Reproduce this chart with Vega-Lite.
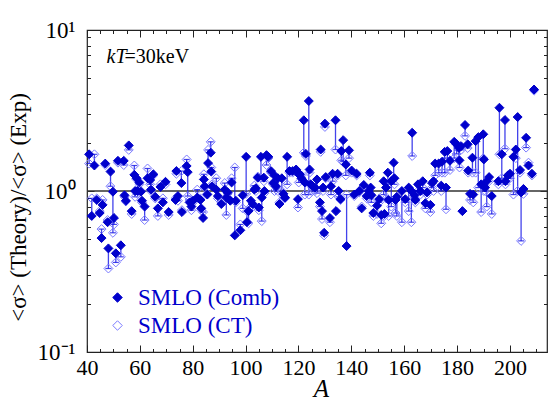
{
"$schema": "https://vega.github.io/schema/vega-lite/v6.json",
"width": 460, "height": 322,
"autosize": {"type": "none"},
"padding": {"left": 87, "top": 30, "right": 2, "bottom": 48},
"background": "white",
"config": {
  "font": "Liberation Serif, serif",
  "view": {"stroke": "#222", "strokeWidth": 1.2},
  "style": {"guide-label": {"font": "Liberation Serif, serif"}, "guide-title": {"font": "Liberation Serif, serif"}},
  "legend": {"labelFont": "Liberation Serif, serif"},
  "axis": {"domain": false, "grid": false, "tickColor": "#222", "tickWidth": 1, "labelFont": "Liberation Serif, serif", "titleFont": "Liberation Serif, serif", "labelColor": "#000", "titleColor": "#000", "labelFontSize": 23, "titleFontWeight": "normal"}
},
"datasets": {"pts": [
{"A":40.8,"comb":1.69,"ct":1.48},{"A":41.8,"comb":0.70,"ct":0.90},{"A":42.8,"comb":1.44,"ct":1.69},{"A":43.7,"comb":0.88,"ct":0.90},
{"A":44.8,"comb":0.73,"ct":0.75},{"A":45.5,"comb":0.51,"ct":0.58},{"A":45.9,"comb":0.82,"ct":0.88},{"A":46.9,"comb":1.48,"ct":1.45},
{"A":47.8,"comb":0.64,"ct":0.66},{"A":48.1,"comb":0.44,"ct":0.33},{"A":48.9,"comb":1.32,"ct":1.07},{"A":49.8,"comb":0.99,"ct":0.55},
{"A":50.2,"comb":0.68,"ct":0.62},{"A":50.9,"comb":0.41,"ct":0.36},{"A":51.7,"comb":1.54,"ct":1.50},{"A":52.8,"comb":0.46,"ct":0.39},
{"A":53.9,"comb":1.54,"ct":1.45},{"A":54.2,"comb":0.94,"ct":0.92},{"A":54.7,"comb":0.87,"ct":0.86},{"A":55.8,"comb":1.92,"ct":1.80},
{"A":56.9,"comb":0.75,"ct":0.72},{"A":57.9,"comb":1.26,"ct":1.44},{"A":58.2,"comb":1.00,"ct":0.92},{"A":58.75,"comb":1.20,"ct":1.18},
{"A":59.1,"comb":1.00,"ct":0.96},{"A":59.8,"comb":1.13,"ct":1.10},{"A":60.4,"comb":0.99,"ct":1.00},{"A":60.8,"comb":0.87,"ct":0.85},
{"A":61.8,"comb":0.80,"ct":0.66},{"A":62.9,"comb":1.20,"ct":1.38},{"A":63.9,"comb":1.17,"ct":1.10},{"A":64.2,"comb":1.02,"ct":1.00},
{"A":65.1,"comb":1.27,"ct":1.25},{"A":65.8,"comb":0.92,"ct":0.90},{"A":66.8,"comb":0.78,"ct":0.70},{"A":67.8,"comb":1.06,"ct":1.10},
{"A":68.7,"comb":0.85,"ct":0.90},{"A":69.7,"comb":1.14,"ct":1.10},{"A":70.9,"comb":0.74,"ct":0.71},{"A":73.5,"comb":0.88,"ct":0.90},
{"A":73.8,"comb":1.33,"ct":1.28},{"A":74.4,"comb":0.93,"ct":0.87},{"A":75.7,"comb":1.12,"ct":1.33},{"A":75.9,"comb":0.74,"ct":0.76},
{"A":77.7,"comb":1.43,"ct":1.57},{"A":78.1,"comb":1.31,"ct":0.93},{"A":78.8,"comb":0.85,"ct":0.88},{"A":79.5,"comb":0.80,"ct":0.76},
{"A":80.1,"comb":0.87,"ct":0.85},{"A":81.7,"comb":0.91,"ct":1.02},{"A":82.9,"comb":0.88,"ct":0.90},{"A":83.2,"comb":0.78,"ct":0.76},
{"A":83.9,"comb":0.68,"ct":0.74},{"A":84.2,"comb":1.18,"ct":1.27},{"A":84.5,"comb":1.07,"ct":1.05},{"A":85.5,"comb":0.95,"ct":0.96},
{"A":85.8,"comb":1.49,"ct":1.80},{"A":86.8,"comb":1.73,"ct":2.02},{"A":87.0,"comb":1.32,"ct":1.40},{"A":87.3,"comb":1.07,"ct":1.10},
{"A":88.9,"comb":1.02,"ct":1.20},{"A":89.5,"comb":0.93,"ct":0.90},{"A":90.8,"comb":0.83,"ct":0.85},{"A":92.1,"comb":1.02,"ct":1.12},
{"A":92.7,"comb":0.91,"ct":0.71},{"A":93.2,"comb":0.98,"ct":0.96},{"A":94.2,"comb":0.87,"ct":0.88},{"A":94.7,"comb":1.13,"ct":1.20},
{"A":95.9,"comb":0.53,"ct":1.40},{"A":96.3,"comb":0.87,"ct":0.85},{"A":98.0,"comb":0.57,"ct":0.62},{"A":98.9,"comb":0.94,"ct":0.78},
{"A":100.2,"comb":1.63,"ct":0.96},{"A":100.5,"comb":0.64,"ct":0.75},{"A":101.1,"comb":0.75,"ct":0.63},{"A":102.0,"comb":0.87,"ct":0.80},
{"A":102.7,"comb":0.83,"ct":0.80},{"A":103.3,"comb":1.02,"ct":1.08},{"A":103.9,"comb":1.04,"ct":1.00},{"A":104.6,"comb":1.21,"ct":1.23},
{"A":105.0,"comb":0.79,"ct":0.76},{"A":105.8,"comb":1.63,"ct":1.21},{"A":106.1,"comb":0.91,"ct":0.65},{"A":106.9,"comb":1.21,"ct":1.15},
{"A":107.1,"comb":1.00,"ct":0.97},{"A":107.9,"comb":1.67,"ct":1.45},{"A":108.6,"comb":1.63,"ct":1.60},{"A":109.6,"comb":1.33,"ct":1.30},
{"A":110.4,"comb":1.12,"ct":1.10},{"A":110.9,"comb":1.25,"ct":1.00},{"A":111.5,"comb":1.07,"ct":1.02},{"A":112.2,"comb":1.20,"ct":1.00},
{"A":112.8,"comb":0.83,"ct":0.85},{"A":113.7,"comb":1.20,"ct":1.00},{"A":114.3,"comb":0.96,"ct":0.92},{"A":114.9,"comb":0.91,"ct":0.90},
{"A":115.7,"comb":1.63,"ct":1.10},{"A":116.6,"comb":1.33,"ct":1.30},{"A":117.8,"comb":1.33,"ct":1.30},{"A":119.1,"comb":1.36,"ct":1.35},
{"A":119.8,"comb":0.89,"ct":0.79},{"A":120.1,"comb":1.27,"ct":1.13},{"A":120.5,"comb":1.27,"ct":1.25},{"A":121.1,"comb":1.20,"ct":1.25},
{"A":122.0,"comb":2.75,"ct":1.73},{"A":122.4,"comb":1.13,"ct":0.95},{"A":122.8,"comb":1.70,"ct":1.65},{"A":123.9,"comb":3.62,"ct":0.95},
{"A":124.2,"comb":1.36,"ct":1.30},{"A":124.6,"comb":1.10,"ct":1.08},{"A":125.2,"comb":1.08,"ct":1.00},{"A":126.2,"comb":1.05,"ct":1.00},
{"A":127.0,"comb":1.18,"ct":0.97},{"A":128.1,"comb":0.85,"ct":0.80},{"A":128.4,"comb":1.81,"ct":1.75},{"A":128.9,"comb":0.75,"ct":0.67},
{"A":129.3,"comb":1.05,"ct":1.00},{"A":129.7,"comb":0.55,"ct":0.53},{"A":130.0,"comb":2.62,"ct":2.50},{"A":130.3,"comb":1.22,"ct":1.20},
{"A":131.9,"comb":0.68,"ct":0.64},{"A":132.3,"comb":1.07,"ct":0.95},{"A":132.9,"comb":1.28,"ct":1.15},{"A":134.0,"comb":2.75,"ct":1.81},
{"A":134.2,"comb":0.75,"ct":0.75},{"A":134.8,"comb":1.28,"ct":1.25},{"A":135.2,"comb":1.00,"ct":0.92},{"A":135.9,"comb":0.89,"ct":0.88},
{"A":136.2,"comb":1.77,"ct":1.55},{"A":136.9,"comb":2.07,"ct":1.52},{"A":137.9,"comb":1.46,"ct":1.25},{"A":138.2,"comb":0.455,"ct":0.95},
{"A":139.1,"comb":1.79,"ct":1.60},{"A":140.1,"comb":1.34,"ct":1.30},{"A":141.1,"comb":0.95,"ct":0.93},{"A":142.0,"comb":1.28,"ct":1.25},
{"A":143.0,"comb":1.00,"ct":0.98},{"A":143.9,"comb":0.78,"ct":0.80},{"A":144.7,"comb":1.09,"ct":1.07},{"A":145.8,"comb":0.93,"ct":0.90},
{"A":146.6,"comb":1.00,"ct":0.90},{"A":147.0,"comb":1.30,"ct":1.25},{"A":147.3,"comb":1.05,"ct":0.95},{"A":147.6,"comb":0.94,"ct":0.85},
{"A":148.3,"comb":0.73,"ct":0.70},{"A":149.7,"comb":0.81,"ct":0.72},{"A":150.5,"comb":0.89,"ct":0.85},{"A":151.3,"comb":0.71,"ct":0.63},
{"A":152.2,"comb":1.15,"ct":0.95},{"A":152.5,"comb":0.72,"ct":0.70},{"A":153.1,"comb":1.05,"ct":0.90},{"A":153.8,"comb":1.30,"ct":1.10},
{"A":154.1,"comb":0.88,"ct":0.70},{"A":155.1,"comb":1.15,"ct":0.80},{"A":156.0,"comb":1.50,"ct":1.20},{"A":156.3,"comb":1.20,"ct":1.10},
{"A":156.7,"comb":0.88,"ct":0.73},{"A":157.2,"comb":0.92,"ct":0.70},{"A":159.1,"comb":1.00,"ct":0.64},{"A":160.4,"comb":0.89,"ct":0.85},
{"A":161.7,"comb":1.05,"ct":0.75},{"A":162.7,"comb":1.00,"ct":0.64},{"A":163.0,"comb":2.30,"ct":1.65},{"A":163.9,"comb":0.94,"ct":0.90},
{"A":164.2,"comb":0.88,"ct":0.85},{"A":165.2,"comb":1.10,"ct":1.00},{"A":166.1,"comb":1.00,"ct":0.95},{"A":167.0,"comb":1.15,"ct":1.05},
{"A":168.0,"comb":0.84,"ct":0.78},{"A":168.6,"comb":0.98,"ct":0.95},{"A":169.9,"comb":0.82,"ct":0.74},{"A":170.5,"comb":1.12,"ct":1.05},
{"A":171.1,"comb":1.15,"ct":1.00},{"A":171.7,"comb":1.48,"ct":1.25},{"A":173.0,"comb":1.48,"ct":1.30},{"A":174.0,"comb":1.08,"ct":1.00},
{"A":174.3,"comb":1.52,"ct":1.30},{"A":175.3,"comb":1.75,"ct":1.30},{"A":175.8,"comb":1.05,"ct":0.77},{"A":176.3,"comb":1.77,"ct":1.60},
{"A":177.3,"comb":1.54,"ct":1.35},{"A":178.9,"comb":2.02,"ct":1.60},{"A":179.8,"comb":1.95,"ct":1.70},{"A":180.7,"comb":1.85,"ct":1.55},
{"A":180.9,"comb":1.55,"ct":1.40},{"A":181.5,"comb":1.90,"ct":1.80},{"A":182.0,"comb":0.75,"ct":0.75},{"A":183.0,"comb":2.57,"ct":2.20},
{"A":184.0,"comb":1.95,"ct":1.85},{"A":184.2,"comb":1.34,"ct":1.30},{"A":184.9,"comb":0.96,"ct":0.88},{"A":185.8,"comb":1.61,"ct":1.30},
{"A":186.1,"comb":0.95,"ct":0.85},{"A":187.0,"comb":2.04,"ct":1.30},{"A":188.0,"comb":2.16,"ct":1.05},{"A":189.1,"comb":1.10,"ct":0.74},
{"A":189.9,"comb":2.25,"ct":1.60},{"A":190.1,"comb":1.57,"ct":1.00},{"A":190.6,"comb":1.05,"ct":1.00},{"A":191.2,"comb":1.15,"ct":0.80},
{"A":192.1,"comb":1.22,"ct":1.15},{"A":193.1,"comb":0.93,"ct":0.72},{"A":195.6,"comb":1.15,"ct":1.10},{"A":196.0,"comb":3.29,"ct":1.69},
{"A":196.9,"comb":1.69,"ct":1.20},{"A":198.1,"comb":2.76,"ct":1.83},{"A":198.3,"comb":1.15,"ct":1.10},{"A":199.2,"comb":1.25,"ct":1.20},
{"A":200.0,"comb":1.28,"ct":1.20},{"A":201.3,"comb":1.63,"ct":0.95},{"A":202.2,"comb":1.81,"ct":1.60},{"A":202.9,"comb":2.88,"ct":1.00},
{"A":203.8,"comb":1.35,"ct":1.30},{"A":204.2,"comb":0.98,"ct":0.49},{"A":205.1,"comb":1.03,"ct":0.96},{"A":206.1,"comb":2.14,"ct":1.86},
{"A":207.0,"comb":1.44,"ct":1.50},{"A":208.3,"comb":1.28,"ct":1.25},{"A":209.1,"comb":4.27,"ct":4.20}
]},
"layer": [
  {"data": {"values": [{}]},
   "mark": {"type": "rule", "color": "#333", "strokeWidth": 1.5},
   "encoding": {"y": {"datum": 1, "type": "quantitative", "scale": {"type": "log", "domain": [0.1, 10], "nice": false}, "axis": null}}},
  {"data": {"name": "pts"},
   "mark": {"type": "rule", "color": "#1414e6", "strokeWidth": 1.3, "opacity": 0.8},
   "encoding": {
     "x": {"field": "A", "type": "quantitative", "scale": {"domain": [40, 214], "nice": false, "zero": false},
           "axis": {"orient": "bottom", "values": [40,60,80,100,120,140,160,180,200], "tickSize": -7, "labelPadding": 12, "labelFlush": false, "labelFontSize": 22, "labelFont": "Liberation Serif, serif",
                    "title": "A", "titleFont": "Liberation Serif, serif", "titleFontStyle": "italic", "titleFontSize": 25, "titleX": 234, "titleY": 44, "titleBaseline": "alphabetic"}},
     "y": {"field": "comb", "type": "quantitative", "scale": {"type": "log", "domain": [0.1, 10], "nice": false},
           "axis": {"orient": "left", "values": [0.1, 1, 10], "tickSize": -7, "labelPadding": 19, "labelFontSize": 23, "labelFont": "Liberation Serif, serif",
                    "labelExpr": "datum.value < 0.5 ? '10⁻¹' : (datum.value < 5 ? '10⁰' : '10¹')",
                    "title": "<σ> (Theory)/<σ> (Exp)", "titleFont": "Liberation Serif, serif", "titleFontSize": 23, "titleX": -69, "titleY": 177, "titleBaseline": "middle", "titleAngle": -90}},
     "y2": {"field": "ct"}
   }},
  {"data": {"name": "pts"},
   "mark": {"type": "tick", "orient": "horizontal", "color": "#1414e6", "size": 6, "thickness": 1.2, "opacity": 0.8},
   "encoding": {
     "x": {"field": "A", "type": "quantitative", "scale": {"domain": [40, 214], "nice": false, "zero": false},
           "axis": {"orient": "top", "values": [40,60,80,100,120,140,160,180,200], "tickSize": -7, "labels": false, "title": null}},
     "y": {"field": "ct", "type": "quantitative", "scale": {"type": "log", "domain": [0.1, 10], "nice": false},
           "axis": {"orient": "right", "values": [0.1, 1, 10], "tickSize": -7, "labels": false, "title": null}}
   }},
  {"data": {"name": "pts"},
   "transform": [{"fold": ["ct", "comb"], "as": ["series", "value"]}],
   "mark": {"type": "point", "shape": "diamond", "size": 80, "strokeWidth": 1, "opacity": 1, "filled": true},
   "encoding": {
     "x": {"field": "A", "type": "quantitative", "scale": {"domain": [40, 214], "nice": false, "zero": false},
           "axis": {"orient": "bottom", "values": [45,50,55,60,65,70,75,80,85,90,95,100,105,110,115,120,125,130,135,140,145,150,155,160,165,170,175,180,185,190,195,200,205,210], "tickSize": -3.5, "labels": false, "title": null}},
     "y": {"field": "value", "type": "quantitative", "scale": {"type": "log", "domain": [0.1, 10], "nice": false},
           "axis": {"orient": "left", "values": [0.2,0.3,0.4,0.5,0.6,0.7,0.8,0.9,2,3,4,5,6,7,8,9], "tickSize": -3.5, "labels": false, "title": null}},
     "fill": {"field": "series", "type": "nominal", "scale": {"domain": ["comb", "ct"], "range": ["#0000cc", "rgba(0,0,0,0)"]},
              "legend": {"orient": "none", "legendX": 19, "legendY": 256, "title": null, "symbolType": "diamond", "symbolSize": 90, "symbolStrokeWidth": 1,
                         "labelFontSize": 23, "labelFont": "Liberation Serif, serif", "labelColor": "#0000cc", "labelOffset": 9, "rowPadding": 4,
                         "labelExpr": "datum.value == 'comb' ? 'SMLO (Comb)' : 'SMLO (CT)'"}},
     "stroke": {"field": "series", "type": "nominal", "scale": {"domain": ["comb", "ct"], "range": ["#0000cc", "#7a7aff"]},
              "legend": {"orient": "none", "legendX": 19, "legendY": 256, "title": null, "symbolType": "diamond", "symbolSize": 90, "symbolStrokeWidth": 1,
                         "labelFontSize": 23, "labelFont": "Liberation Serif, serif", "labelColor": "#0000cc", "labelOffset": 9, "rowPadding": 4,
                         "labelExpr": "datum.value == 'comb' ? 'SMLO (Comb)' : 'SMLO (CT)'"}},
     "order": {"field": "series", "sort": "descending"}
   }},
  {"data": {"values": [{}]},
   "mark": {"type": "text", "text": "kT", "font": "Liberation Serif, serif", "fontStyle": "italic", "fontSize": 20, "align": "left", "baseline": "alphabetic", "color": "#000"},
   "encoding": {
     "x": {"datum": 47.4, "type": "quantitative", "scale": {"domain": [40, 214], "nice": false, "zero": false},
           "axis": {"orient": "top", "values": [45,50,55,60,65,70,75,80,85,90,95,100,105,110,115,120,125,130,135,140,145,150,155,160,165,170,175,180,185,190,195,200,205,210], "tickSize": -3.5, "labels": false, "title": null}},
     "y": {"datum": 6.27, "type": "quantitative", "scale": {"type": "log", "domain": [0.1, 10], "nice": false},
           "axis": {"orient": "right", "values": [0.2,0.3,0.4,0.5,0.6,0.7,0.8,0.9,2,3,4,5,6,7,8,9], "tickSize": -3.5, "labels": false, "title": null}}
   }},
  {"data": {"values": [{}]},
   "mark": {"type": "text", "text": "=30keV", "font": "Liberation Serif, serif", "fontSize": 20, "align": "left", "baseline": "alphabetic", "color": "#000", "dx": 18},
   "encoding": {
     "x": {"datum": 47.4, "type": "quantitative", "scale": {"domain": [40, 214], "nice": false, "zero": false}, "axis": null},
     "y": {"datum": 6.27, "type": "quantitative", "scale": {"type": "log", "domain": [0.1, 10], "nice": false}, "axis": null}
   }}
],
"resolve": {"scale": {"x": "independent", "y": "independent"}}
}
